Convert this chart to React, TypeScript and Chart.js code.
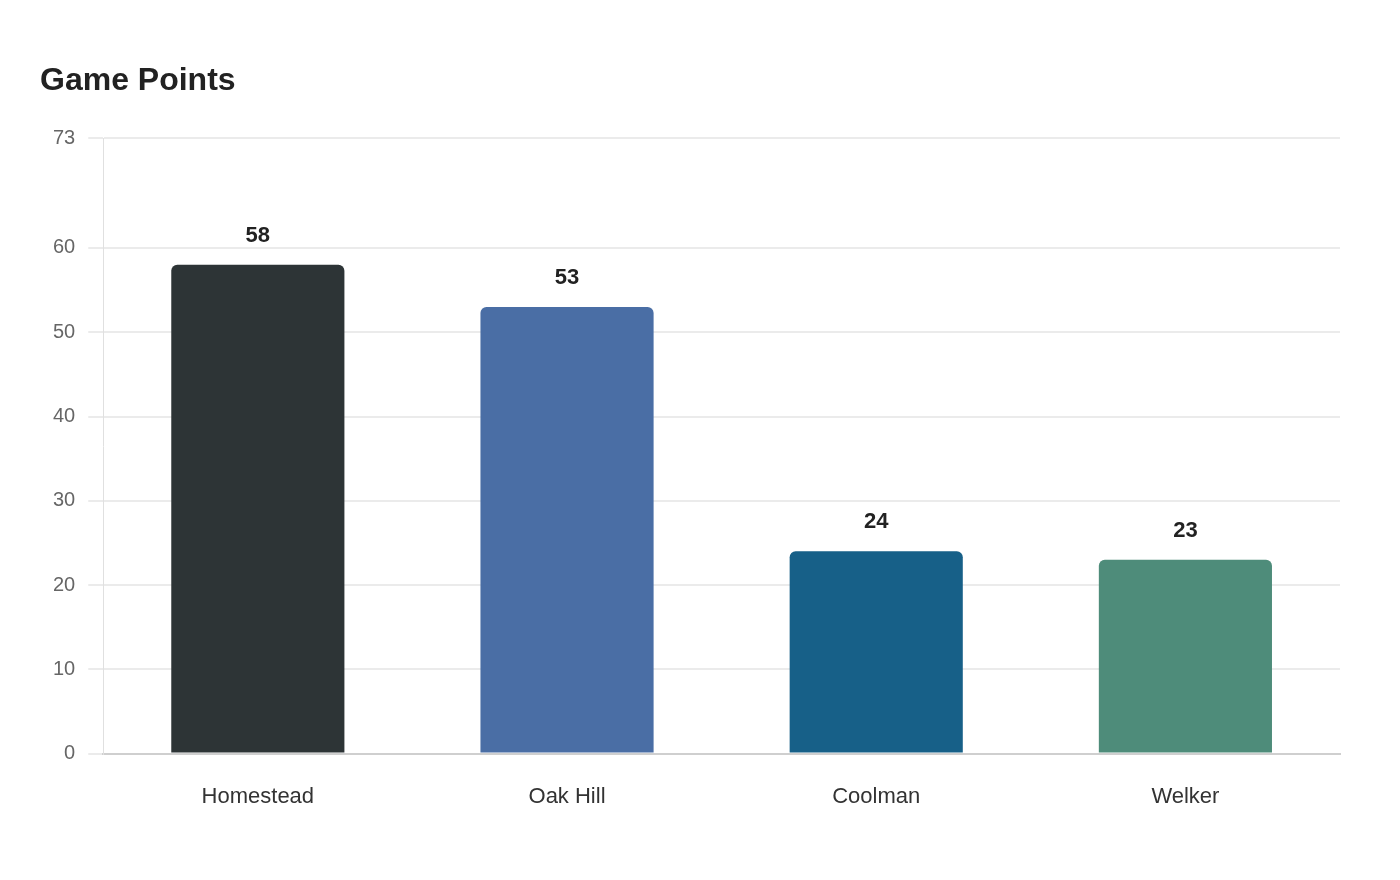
import { useEffect, useRef } from "react"
import { Chart, registerables } from "chart.js"

Chart.register(...registerables)

const teams = ["Homestead", "Oak Hill", "Coolman", "Welker"]
const points = [58, 53, 24, 23]
const barColors = ["#2d3436", "#4a6ea5", "#176088", "#4e8c7a"]
const yTicks = [0, 10, 20, 30, 40, 50, 60, 73]

const FONT = "'Liberation Sans', Arial, sans-serif"

// draws the value above each bar
const valueLabels = {
  id: "valueLabels",
  afterDatasetsDraw(chart: Chart) {
    const ctx = chart.ctx
    const meta = chart.getDatasetMeta(0)
    ctx.save()
    ctx.font = `bold 22px ${FONT}`
    ctx.fillStyle = "#222"
    ctx.textAlign = "center"
    ctx.textBaseline = "middle"
    meta.data.forEach((bar: any, i: number) => {
      ctx.fillText(String(points[i]), bar.x, bar.y - 29)
    })
    ctx.restore()
  },
}

export default function App() {
  const chartRef = useRef<HTMLCanvasElement>(null)
  const chartInstance = useRef<Chart | null>(null)

  useEffect(() => {
    if (!chartRef.current) return
    if (chartInstance.current) chartInstance.current.destroy()

    chartInstance.current = new Chart(chartRef.current, {
      type: "bar",
      data: {
        labels: teams,
        datasets: [
          {
            label: "Game Points",
            data: points,
            backgroundColor: barColors,
            borderRadius: { topLeft: 6, topRight: 6 },
            borderSkipped: "bottom",
            barPercentage: 0.56,
            categoryPercentage: 1,
          },
        ],
      },
      options: {
        animation: false,
        responsive: true,
        maintainAspectRatio: false,
        layout: { padding: { left: 32, right: 52, top: 40, bottom: 40 } },
        plugins: {
          legend: { display: false },
          tooltip: { enabled: false },
          title: {
            display: true,
            text: "Game Points",
            align: "start",
            color: "#222",
            font: { family: FONT, size: 32, weight: "bold" },
            padding: { top: 14, bottom: 38 },
          },
        },
        scales: {
          x: {
            grid: { display: false },
            border: { color: "#cfcfcf", width: 2 },
            ticks: {
              color: "#333",
              font: { family: FONT, size: 22 },
              padding: 22,
            },
          },
          y: {
            min: 0,
            max: 73,
            afterBuildTicks: (axis: any) => {
              axis.ticks = yTicks.map((v) => ({ value: v }))
            },
            grid: { color: "#ebebeb", lineWidth: 2, tickLength: 15 },
            border: { color: "#e0e0e0", width: 1 },
            ticks: {
              color: "#666",
              font: { family: FONT, size: 20 },
              padding: 13,
            },
          },
        },
      },
      plugins: [valueLabels],
    })

    return () => {
      if (chartInstance.current) {
        chartInstance.current.destroy()
        chartInstance.current = null
      }
    }
  }, [])

  return (
    <div style={{ width: 1384, height: 864, position: "relative" }}>
      <canvas ref={chartRef} />
    </div>
  )
}
